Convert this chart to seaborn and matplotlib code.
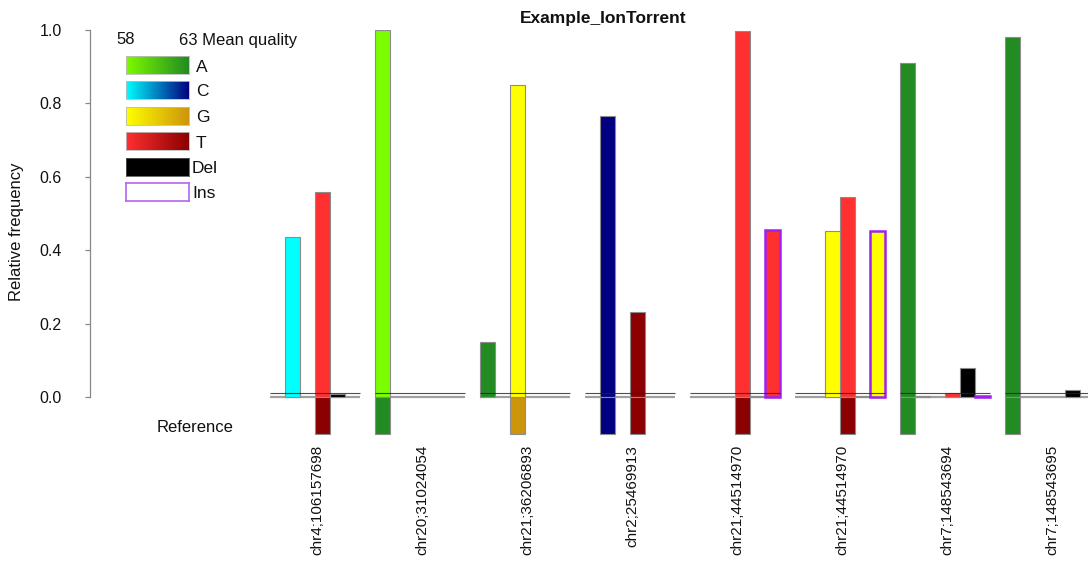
import numpy as np
import pandas as pd
import matplotlib
matplotlib.use("Agg")
import matplotlib.pyplot as plt
from matplotlib.colors import LinearSegmentedColormap, Normalize
import seaborn as sns

# ---------------- data ----------------
positions = ["chr4;106157698", "chr20;31024054", "chr21;36206893", "chr2;25469913",
             "chr21;44514970", "chr21;44514970", "chr7;148543694", "chr7;148543695"]
bases = ["A", "C", "G", "T", "Del", "Ins"]

freq_A = [0.0, 1.0, 0.15, 0.0, 0.0, 0.0, 0.91, 0.98]
freq_C = [0.435, 0.0, 0.0, 0.765, 0.0, 0.0, 0.004, 0.0]
freq_G = [0.0, 0.0, 0.85, 0.0, 0.0, 0.452, 0.0, 0.0]
freq_T = [0.558, 0.0, 0.0, 0.232, 0.997, 0.545, 0.012, 0.0]
freq_Del = [0.008, 0.0, 0.0, 0.0, 0.004, 0.004, 0.078, 0.02]
freq_Ins = [0.0, 0.0, 0.0, 0.0, 0.455, 0.452, 0.004, 0.0]

qual_A = [58, 58, 63, 58, 58, 58, 63, 63]
qual_C = [58, 58, 58, 63, 58, 58, 60.5, 58]
qual_G = [58, 58, 58, 58, 58, 58, 58, 58]
qual_T = [58, 58, 58, 63, 58, 58, 58, 58]
ins_base = [None, None, None, None, "T", "G", None, None]
ins_qual = [58, 58, 58, 58, 58, 58, 58, 58]

ref_bases = [["T"], ["A"], ["G"], ["C", "T"], ["T"], ["T"], ["A"], ["A"]]
ref_height = -0.1
qual_range = [58, 63]

yticks = [0.0, 0.2, 0.4, 0.6, 0.8, 1.0]

# ---------------- style ----------------
sns.set_theme(style="white")
plt.rcParams["font.family"] = ["Liberation Sans", "DejaVu Sans"]

grad = {
    "A": ["#7CFC00", "#228B22"],
    "C": ["#00FFFF", "#000080"],
    "G": ["#FFFF00", "#CD950C"],
    "T": ["#FF3030", "#8B0000"],
}
cmaps = {b: LinearSegmentedColormap.from_list(b, c) for b, c in grad.items()}
norm = Normalize(qual_range[0], qual_range[1])


def col(base, q):
    return matplotlib.colors.to_hex(cmaps[base](norm(q)))


W, H = 1088, 567
fig = plt.figure(figsize=(W / 100, H / 100), dpi=100)

ax_left_px, ax_right_px = 90, 1088
ax_top_px, ax_bot_px = 30, 440
y0_px = 397
unit = (y0_px - ax_top_px)
ymin = -(ax_bot_px - y0_px) / unit
ax = fig.add_axes([ax_left_px / W, 1 - ax_bot_px / H,
                   (ax_right_px - ax_left_px) / W, (ax_bot_px - ax_top_px) / H])

slot_px = 15
x0_px = 270
xmin = (ax_left_px - x0_px) / slot_px
xmax = (ax_right_px - x0_px) / slot_px
group_step = 7

freqs = {"A": freq_A, "C": freq_C, "G": freq_G, "T": freq_T}
quals = {"A": qual_A, "C": qual_C, "G": qual_G, "T": qual_T}

rows = []
for g in range(len(positions)):
    for s, b in enumerate(["A", "C", "G", "T"]):
        v = freqs[b][g]
        if v > 0:
            rows.append((g * group_step + s + 0.5, v, col(b, quals[b][g])))
    if freq_Del[g] > 0:
        rows.append((g * group_step + 4 + 0.5, freq_Del[g], "#000000"))
main = pd.DataFrame(rows, columns=["x", "y", "c"])

ref_rows = []
for g, rb in enumerate(ref_bases):
    for b in rb:
        s = bases.index(b)
        ref_rows.append((g * group_step + s + 0.5, ref_height, col(b, qual_range[1])))
ref = pd.DataFrame(ref_rows, columns=["x", "y", "c"])

ins_rows = []
for g in range(len(positions)):
    if freq_Ins[g] > 0:
        fc = col(ins_base[g], ins_qual[g]) if ins_base[g] else "#A020F0"
        ins_rows.append((g * group_step + 5 + 0.5, freq_Ins[g], fc))
ins = pd.DataFrame(ins_rows, columns=["x", "y", "c"])


def draw(df, edge, lw, z):
    ux = np.unique(df["x"])
    w = 1.0 / np.min(np.diff(ux)) if len(ux) > 1 else 1.0
    pal = {c: c for c in df["c"].unique()}
    sns.barplot(data=df, x="x", y="y", hue="c", palette=pal, native_scale=True,
                width=w, dodge=False, saturation=1, errorbar=None, legend=False,
                edgecolor=edge, linewidth=lw, ax=ax, zorder=z)


draw(main, "#8c8c8c", 0.8, 2)
draw(ref, "#8c8c8c", 0.8, 2)
draw(ins, "#A020F0", 1.8, 2)

for g in range(len(positions)):
    xs = [g * group_step, g * group_step + 6]
    ax.plot(xs, [0, 0], color="#a0a0a0", lw=1.6, zorder=1, solid_capstyle="butt")
    ax.plot(xs, [0.01, 0.01], color="#222222", lw=0.8, zorder=5, alpha=0.8,
            solid_capstyle="butt")

ax.set_xlim(xmin, xmax)
ax.set_ylim(ymin, 1.0)
ax.set_xlabel("")
ax.set_ylabel("")
ax.set_xticks([])
for sp in ["top", "right", "bottom"]:
    ax.spines[sp].set_visible(False)
ax.spines["left"].set_bounds(0, 1)
ax.spines["left"].set_color("#888888")
ax.spines["left"].set_linewidth(0.9)
ax.set_yticks(yticks)
ax.set_yticklabels([f"{v:.1f}" for v in yticks])
ax.tick_params(axis="y", left=True, length=3.5, width=0.9, color="#888888",
               pad=17, labelsize=11.5, labelcolor="#111111")

for g, lab in enumerate(positions):
    ax.text(g * group_step + 3.15, -(445 - y0_px) / unit, lab, rotation=90,
            ha="center", va="top", fontsize=11, color="#111111", clip_on=False)

ax.text((233 - x0_px) / slot_px, -(427 - y0_px) / unit, "Reference",
        ha="right", va="center", fontsize=12, color="#111111")

fig.text(17 / W, 1 - 232 / H, "Relative frequency", rotation=90, ha="center",
         va="center", fontsize=12, color="#111111")
fig.text(603 / W, 1 - 18 / H, "Example_IonTorrent", ha="center", va="center",
         fontsize=12.5, fontweight="bold", color="#111111")

fig.text(126 / W, 1 - 40 / H, str(qual_range[0]), ha="center", va="center",
         fontsize=12, color="#111111")
fig.text(179 / W, 1 - 40 / H, f"{qual_range[1]} Mean quality", ha="left",
         va="center", fontsize=12, color="#111111")

box_tops = [56, 81, 107, 132, 158, 183]
box_h = 18
bx0, bx1 = 126, 189
gradient = np.linspace(0, 1, 256).reshape(1, -1)
for b, top in zip(bases, box_tops):
    lax = fig.add_axes([bx0 / W, 1 - (top + box_h) / H, (bx1 - bx0) / W, box_h / H])
    lax.set_xticks([])
    lax.set_yticks([])
    if b in cmaps:
        lax.imshow(gradient, aspect="auto", cmap=cmaps[b])
        for sp in lax.spines.values():
            sp.set_color("#bbbbbb")
            sp.set_linewidth(0.6)
        lx = 196
    elif b == "Del":
        lax.set_facecolor("black")
        for sp in lax.spines.values():
            sp.set_color("#555555")
            sp.set_linewidth(0.6)
        lx = 192
    else:
        lax.set_facecolor("white")
        for sp in lax.spines.values():
            sp.set_color("#B366F0")
            sp.set_linewidth(1.2)
        lx = 192
    fig.text(lx / W, 1 - (top + box_h / 2 + 2) / H, b, ha="left", va="center",
             fontsize=12.5, color="#111111")

fig.savefig("out.png", dpi=100)
